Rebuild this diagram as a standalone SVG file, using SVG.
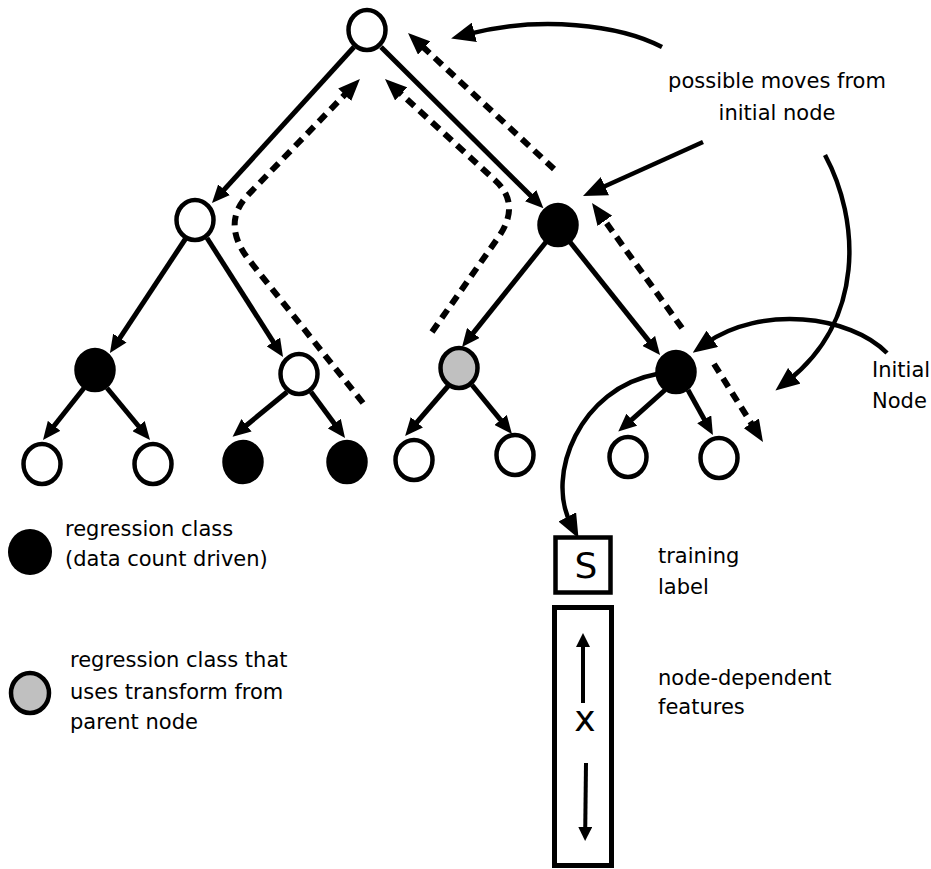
<svg xmlns="http://www.w3.org/2000/svg" width="931" height="869" viewBox="0 0 931 869">
  <defs>
    <style>
      .node { stroke: #000; stroke-width: 4.5; }
      .open { fill: #fff; }
      .filled { fill: #000; }
      .grey { fill: #c0c0c0; }
      .edge { fill: none; stroke: #000; stroke-width: 5; marker-end: url(#head); }
      .move { fill: none; stroke: #000; stroke-width: 6; stroke-dasharray: 10 7; marker-end: url(#dhead); }
      .callout { fill: none; stroke: #000; stroke-width: 4.5; marker-end: url(#chead); }
      .inner { fill: none; stroke: #000; stroke-width: 4; marker-end: url(#ihead); }
      .box { fill: #fff; stroke: #000; }
      text { font-family: "DejaVu Sans", "Liberation Sans", sans-serif; font-size: 21px; fill: #000; }
      .sym { font-size: 36px; text-anchor: middle; }
    </style>
    <marker id="head" markerUnits="userSpaceOnUse" markerWidth="18" markerHeight="16" refX="7" refY="8" orient="auto">
      <path d="M0,0 L18,8 L0,16 z" fill="#000"/>
    </marker>
    <marker id="dhead" markerUnits="userSpaceOnUse" markerWidth="22" markerHeight="18" refX="10" refY="9" orient="auto">
      <path d="M0,0 L22,9 L0,18 z" fill="#000"/>
    </marker>
    <marker id="chead" markerUnits="userSpaceOnUse" markerWidth="24" markerHeight="20" refX="8" refY="10" orient="auto">
      <path d="M0,0 L24,10 L0,20 z" fill="#000"/>
    </marker>
    <marker id="ihead" markerUnits="userSpaceOnUse" markerWidth="14" markerHeight="14" refX="5" refY="7" orient="auto">
      <path d="M0,0 L14,7 L0,14 z" fill="#000"/>
    </marker>
  </defs>

  <rect width="931" height="869" fill="#fff"/>

  <!-- tree edges -->
  <g id="edges">
    <path class="edge" d="M354 47 L219.4 194.9"/>
    <path class="edge" d="M381 47 L535.6 200.6"/>
    <path class="edge" d="M186 238 L116 343.9"/>
    <path class="edge" d="M207 238 L277.1 347.8"/>
    <path class="edge" d="M546 242 L468.9 338.4"/>
    <path class="edge" d="M570 242 L653.2 346.4"/>
    <path class="edge" d="M84 388 L49.8 431.3"/>
    <path class="edge" d="M107 388 L143 431.5"/>
    <path class="edge" d="M287 392 L241.1 429.7"/>
    <path class="edge" d="M311 392 L338.5 429.2"/>
    <path class="edge" d="M449 385 L412.3 427.6"/>
    <path class="edge" d="M472 385 L505 425.4"/>
    <path class="edge" d="M665 390 L626.5 424.3"/>
    <path class="edge" d="M688 390 L707.6 425.4"/>
  </g>

  <!-- dashed move arrows -->
  <g id="moves">
    <path class="move" d="M363 403 L250.3 261.6 Q220 224 248.3 194.6 L351.6 87.6"/>
    <path class="move" d="M432 332 L498 237.8 Q521.4 204.5 495.4 180.6 L393.8 87.1"/>
    <path class="move" d="M554 169 L416.8 41.2"/>
    <path class="move" d="M682 328 L599 212.7"/>
    <path class="move" d="M714 364 L756.6 431.8"/>
  </g>

  <!-- annotation arrows -->
  <g id="callouts">
    <path class="callout" d="M662 47 C620 25 540 15 466.6 34.4"/>
    <path class="callout" d="M703 142 L597.6 189.5"/>
    <path class="callout" d="M825 155 C860 220 865 320 788 380.7"/>
    <path class="callout" d="M887 353 C850 315 760 305 705.8 343.4"/>
    <path class="callout" d="M657 374 C580 388 545 475 571 524"/>
  </g>

  <!-- tree nodes -->
  <g id="root"><ellipse class="node open" cx="367" cy="30" rx="18.5" ry="20"/></g>
  <g id="n-left"><ellipse class="node open" cx="195" cy="220" rx="18.5" ry="20"/></g>
  <g id="n-right"><ellipse class="node filled" cx="558" cy="225" rx="18.5" ry="20"/></g>
  <g id="n-ll"><ellipse class="node filled" cx="95" cy="370" rx="18.5" ry="20"/></g>
  <g id="n-lr"><ellipse class="node open" cx="299" cy="374" rx="18.5" ry="20"/></g>
  <g id="n-rl"><ellipse class="node grey" cx="459" cy="368" rx="18.5" ry="20"/></g>
  <g id="n-rr"><ellipse class="node filled" cx="676" cy="372" rx="18.5" ry="20"/></g>
  <g id="leaf-1"><ellipse class="node open" cx="42" cy="464" rx="18.5" ry="20"/></g>
  <g id="leaf-2"><ellipse class="node open" cx="153" cy="464" rx="18.5" ry="20"/></g>
  <g id="leaf-3"><ellipse class="node filled" cx="243" cy="462" rx="18.5" ry="20"/></g>
  <g id="leaf-4"><ellipse class="node filled" cx="347" cy="462" rx="18.5" ry="20"/></g>
  <g id="leaf-5"><ellipse class="node open" cx="414" cy="460" rx="18.5" ry="20"/></g>
  <g id="leaf-6"><ellipse class="node open" cx="515" cy="455" rx="18.5" ry="20"/></g>
  <g id="leaf-7"><ellipse class="node open" cx="628" cy="457" rx="18.5" ry="20"/></g>
  <g id="leaf-8"><ellipse class="node open" cx="719" cy="458" rx="18.5" ry="20"/></g>

  <!-- training label and feature vector -->
  <g id="label-box">
    <rect class="box" x="555.5" y="537.5" width="55" height="55" stroke-width="4.5"/>
    <text class="sym" x="586" y="578">S</text>
  </g>
  <g id="feature-box">
    <rect class="box" x="554.5" y="607.5" width="57" height="258" stroke-width="5"/>
    <path class="inner" d="M583 703 L583 642"/>
    <text class="sym" x="585" y="731">x</text>
    <path class="inner" d="M586 763 L585.2 832"/>
  </g>

  <!-- annotations -->
  <g id="note-moves">
    <text x="777" y="88" text-anchor="middle">possible moves from</text>
    <text x="777" y="120" text-anchor="middle">initial node</text>
  </g>
  <g id="note-initial">
    <text x="872" y="377">Initial</text>
    <text x="872" y="408">Node</text>
  </g>
  <g id="note-training">
    <text x="658" y="563">training</text>
    <text x="658" y="594">label</text>
  </g>
  <g id="note-features">
    <text x="658" y="685">node-dependent</text>
    <text x="658" y="714">features</text>
  </g>

  <!-- legend -->
  <g id="legend-count">
    <ellipse cx="30" cy="552" rx="22" ry="23" fill="#000"/>
    <text x="65" y="536">regression class</text>
    <text x="65" y="566">(data count driven)</text>
  </g>
  <g id="legend-transform">
    <ellipse class="node grey" cx="30" cy="693" rx="19" ry="20" stroke-width="5"/>
    <text x="70" y="667">regression class that</text>
    <text x="70" y="699">uses transform from</text>
    <text x="70" y="729">parent node</text>
  </g>
</svg>
